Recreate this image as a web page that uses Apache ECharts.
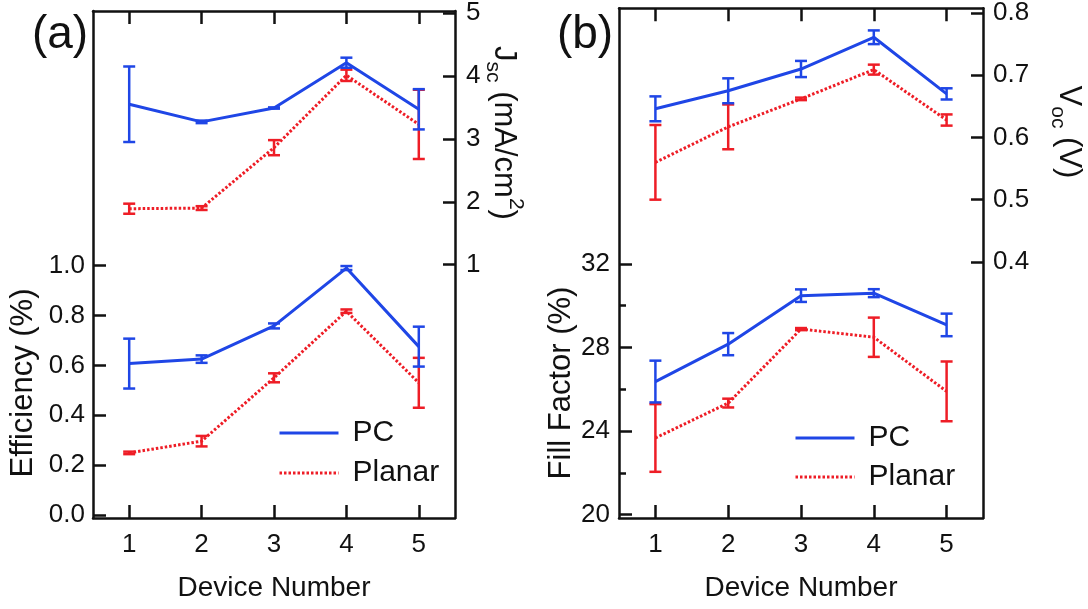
<!DOCTYPE html>
<html><head><meta charset="utf-8">
<script src="https://cdn.jsdelivr.net/npm/echarts@6/dist/echarts.min.js"></script>
<style>html,body{margin:0;padding:0;background:#fff}#c{width:1088px;height:609px}</style>
</head><body><div id="c"></div>
<script>
// ---- data ----
const devices = [1, 2, 3, 4, 5];
// panel (a) top: Jsc (mA/cm^2), right axis
const jscPC = [3.55, 3.27, 3.49, 4.21, 3.47];
const jscPCErr = [0.60, 0.02, 0.01, 0.08, 0.32];
const jscPlanar = [1.89, 1.90, 2.86, 4.01, 3.23];
const jscPlanarErr = [0.08, 0.03, 0.12, 0.09, 0.55];
// panel (a) bottom: Efficiency (%), left axis
const effPC = [0.607, 0.625, 0.758, 0.990, 0.675];
const effPCErr = [0.100, 0.015, 0.010, 0.008, 0.080];
const effPlanar = [0.249, 0.296, 0.550, 0.817, 0.530];
const effPlanarErr = [0.005, 0.021, 0.018, 0.007, 0.100];
// panel (b) top: Voc (V), right axis
const vocPC = [0.646, 0.675, 0.710, 0.761, 0.670];
const vocPCErr = [0.020, 0.020, 0.013, 0.011, 0.009];
const vocPlanar = [0.560, 0.617, 0.662, 0.709, 0.628];
const vocPlanarErr = [0.060, 0.036, 0.002, 0.008, 0.009];
// panel (b) bottom: Fill factor (%), left axis
const ffPC = [26.37, 28.16, 30.48, 30.60, 29.08];
const ffPCErr = [1.00, 0.53, 0.30, 0.19, 0.54];
const ffPlanar = [23.67, 25.34, 28.88, 28.49, 25.90];
const ffPlanarErr = [1.62, 0.21, 0.05, 0.94, 1.43];
// tick labels
const effTicks = [0, 0.2, 0.4, 0.6, 0.8, 1.0];
const jscTicks = [1, 2, 3, 4, 5];
const ffTicks = [20, 24, 28, 32];
const ffMinorTicks = [22, 26, 30];
const vocTicks = [0.4, 0.5, 0.6, 0.7, 0.8];
const seriesNames = ['PC', 'Planar'];

// ---- styling ----
const FONT = '"Liberation Sans", Arial, Helvetica, sans-serif';
const BLUE = '#1f46e6', RED = '#ee1d26', INK = '#111';

const pts = vals => devices.map((d, i) => [d, vals[i]]);
const bars = (vals, errs) => devices.map((d, i) => [d, vals[i] - errs[i], vals[i] + errs[i]]);

function lineSeries(name, vals, xi, yi, color, dotted, z) {
  return { type: 'line', name, data: pts(vals), xAxisIndex: xi, yAxisIndex: yi, symbol: 'none', showSymbol: false, z,
    lineStyle: { color, width: 3, type: dotted ? [2.5, 2] : 'solid' }, itemStyle: { color }, animation: false };
}
function errSeries(name, vals, errs, xi, yi, color, z) {
  return { type: 'custom', name: name + ' error', xAxisIndex: xi, yAxisIndex: yi, z,
    data: bars(vals, errs), encode: { x: 0, y: [1, 2] }, animation: false,
    renderItem(params, api) {
      const x = api.value(0);
      const lo = api.coord([x, api.value(1)]), hi = api.coord([x, api.value(2)]);
      const hw = 6, st = { stroke: color, lineWidth: 2.5 };
      return { type: 'group', children: [
        { type: 'line', shape: { x1: lo[0], y1: lo[1], x2: hi[0], y2: hi[1] }, style: st },
        { type: 'line', shape: { x1: lo[0] - hw, y1: lo[1], x2: lo[0] + hw, y2: lo[1] }, style: st },
        { type: 'line', shape: { x1: hi[0] - hw, y1: hi[1], x2: hi[0] + hw, y2: hi[1] }, style: st }
      ] };
    } };
}

function xAx(grid, pos, withLabels) {
  return { type: 'value', gridIndex: grid, position: pos, min: 0.5, max: 5.5,
    axisLine: { show: true, onZero: false, lineStyle: { color: INK, width: 2.5 } },
    axisTick: { show: true, inside: true, length: 13, customValues: devices, lineStyle: { color: INK, width: 2.5 } },
    axisLabel: { show: withLabels, customValues: devices, fontSize: 26, fontFamily: FONT, color: INK, margin: 14 },
    splitLine: { show: false },
    name: withLabels ? 'Device Number' : '', nameLocation: 'middle', nameGap: 56,
    nameTextStyle: { fontSize: 28, fontFamily: FONT, color: INK } };
}
function yAx(grid, pos, min, max, ticks, fmt, opts) {
  opts = opts || {};
  return { type: 'value', gridIndex: grid, position: pos, min, max,
    axisLine: { show: opts.line !== false, onZero: false, lineStyle: { color: INK, width: 2.5 } },
    axisTick: { show: true, inside: true, length: opts.tickLen || 12, customValues: ticks, lineStyle: { color: INK, width: 2.5 } },
    axisLabel: { show: opts.label !== false, customValues: ticks, formatter: fmt, fontSize: 26, fontFamily: FONT, color: INK, margin: opts.margin || 9 },
    splitLine: { show: false } };
}

const titleStyle = (text, rich) => ({ text, rich, align: 'center', verticalAlign: 'middle', fill: INK, font: '31px ' + FONT });
const richT = {
  m: { fontSize: 31, fontFamily: FONT, fill: INK, color: INK, lineHeight: 44, verticalAlign: 'middle' },
  s: { fontSize: 21, fontFamily: FONT, fill: INK, color: INK, lineHeight: 21, verticalAlign: 'bottom' },
  p: { fontSize: 21, fontFamily: FONT, fill: INK, color: INK, lineHeight: 21, verticalAlign: 'top' }
};

const legendCommon = { data: seriesNames, orient: 'vertical', itemWidth: 59, itemHeight: 20,
  itemStyle: { opacity: 0, borderWidth: 0 },
  lineStyle: { width: 3, color: 'inherit', type: 'inherit' },
  textStyle: { fontSize: 30, fontFamily: FONT, color: INK, lineHeight: 30, padding: [0, 0, 0, 9] } };

const option = {
  backgroundColor: '#fff',
  animation: false,
  grid: [
    { left: 93, right: 633, top: 8, bottom: 91 },
    { left: 619, right: 105, top: 8, bottom: 91 }
  ],
  xAxis: [xAx(0, 'bottom', true), xAx(0, 'top', false), xAx(1, 'bottom', true), xAx(1, 'top', false)],
  yAxis: [
    yAx(0, 'left', -0.012, 2.02, effTicks, v => v.toFixed(1), { tickLen: 13, margin: 8 }),
    yAx(0, 'right', -3.025, 5.03, jscTicks, v => String(v), { tickLen: 12, margin: 11 }),
    yAx(1, 'left', 19.84, 44.23, ffTicks, v => String(v), { tickLen: 13, margin: 9 }),
    yAx(1, 'left', 19.84, 44.23, ffMinorTicks, v => '', { tickLen: 7, line: false, label: false }),
    yAx(1, 'right', -0.0116, 0.8075, vocTicks, v => v.toFixed(1), { tickLen: 12, margin: 10 })
  ],
  legend: [
    Object.assign({}, legendCommon, { left: 273, top: 413, itemGap: 10 }),
    Object.assign({}, legendCommon, { left: 789, top: 418, itemGap: 9 })
  ],
  series: [
    // panel (a)
    lineSeries('Planar', jscPlanar, 0, 1, RED, true, 2),
    errSeries('Planar', jscPlanar, jscPlanarErr, 0, 1, RED, 3),
    lineSeries('Planar', effPlanar, 0, 0, RED, true, 2),
    errSeries('Planar', effPlanar, effPlanarErr, 0, 0, RED, 3),
    lineSeries('PC', jscPC, 0, 1, BLUE, false, 4),
    errSeries('PC', jscPC, jscPCErr, 0, 1, BLUE, 5),
    lineSeries('PC', effPC, 0, 0, BLUE, false, 4),
    errSeries('PC', effPC, effPCErr, 0, 0, BLUE, 5),
    // panel (b)
    lineSeries('Planar', vocPlanar, 2, 4, RED, true, 2),
    errSeries('Planar', vocPlanar, vocPlanarErr, 2, 4, RED, 3),
    lineSeries('Planar', ffPlanar, 2, 2, RED, true, 2),
    errSeries('Planar', ffPlanar, ffPlanarErr, 2, 2, RED, 3),
    lineSeries('PC', vocPC, 2, 4, BLUE, false, 4),
    errSeries('PC', vocPC, vocPCErr, 2, 4, BLUE, 5),
    lineSeries('PC', ffPC, 2, 2, BLUE, false, 4),
    errSeries('PC', ffPC, ffPCErr, 2, 2, BLUE, 5)
  ],
  graphic: [
    { type: 'text', x: 60, y: 35, style: { text: '(a)', font: '46px ' + FONT, fill: INK, align: 'center', verticalAlign: 'middle' } },
    { type: 'text', x: 585, y: 35, style: { text: '(b)', font: '46px ' + FONT, fill: INK, align: 'center', verticalAlign: 'middle' } },
    { type: 'text', x: 23, y: 383, rotation: Math.PI / 2, style: titleStyle('Efficiency (%)') },
    { type: 'text', x: 561, y: 383, rotation: Math.PI / 2, style: titleStyle('Fill Factor (%)') },
    { type: 'text', x: 504, y: 133, rotation: -Math.PI / 2,
      style: titleStyle('{m|J}{s|sc}{m| (mA/cm}{p|2}{m|)}', richT) },
    { type: 'text', x: 1069, y: 132, rotation: -Math.PI / 2,
      style: titleStyle('{m|V}{s|oc}{m| (V)}', richT) }
  ]
};
echarts.init(document.getElementById('c'), null, { renderer: 'canvas' }).setOption(option);
</script>
</body></html>
